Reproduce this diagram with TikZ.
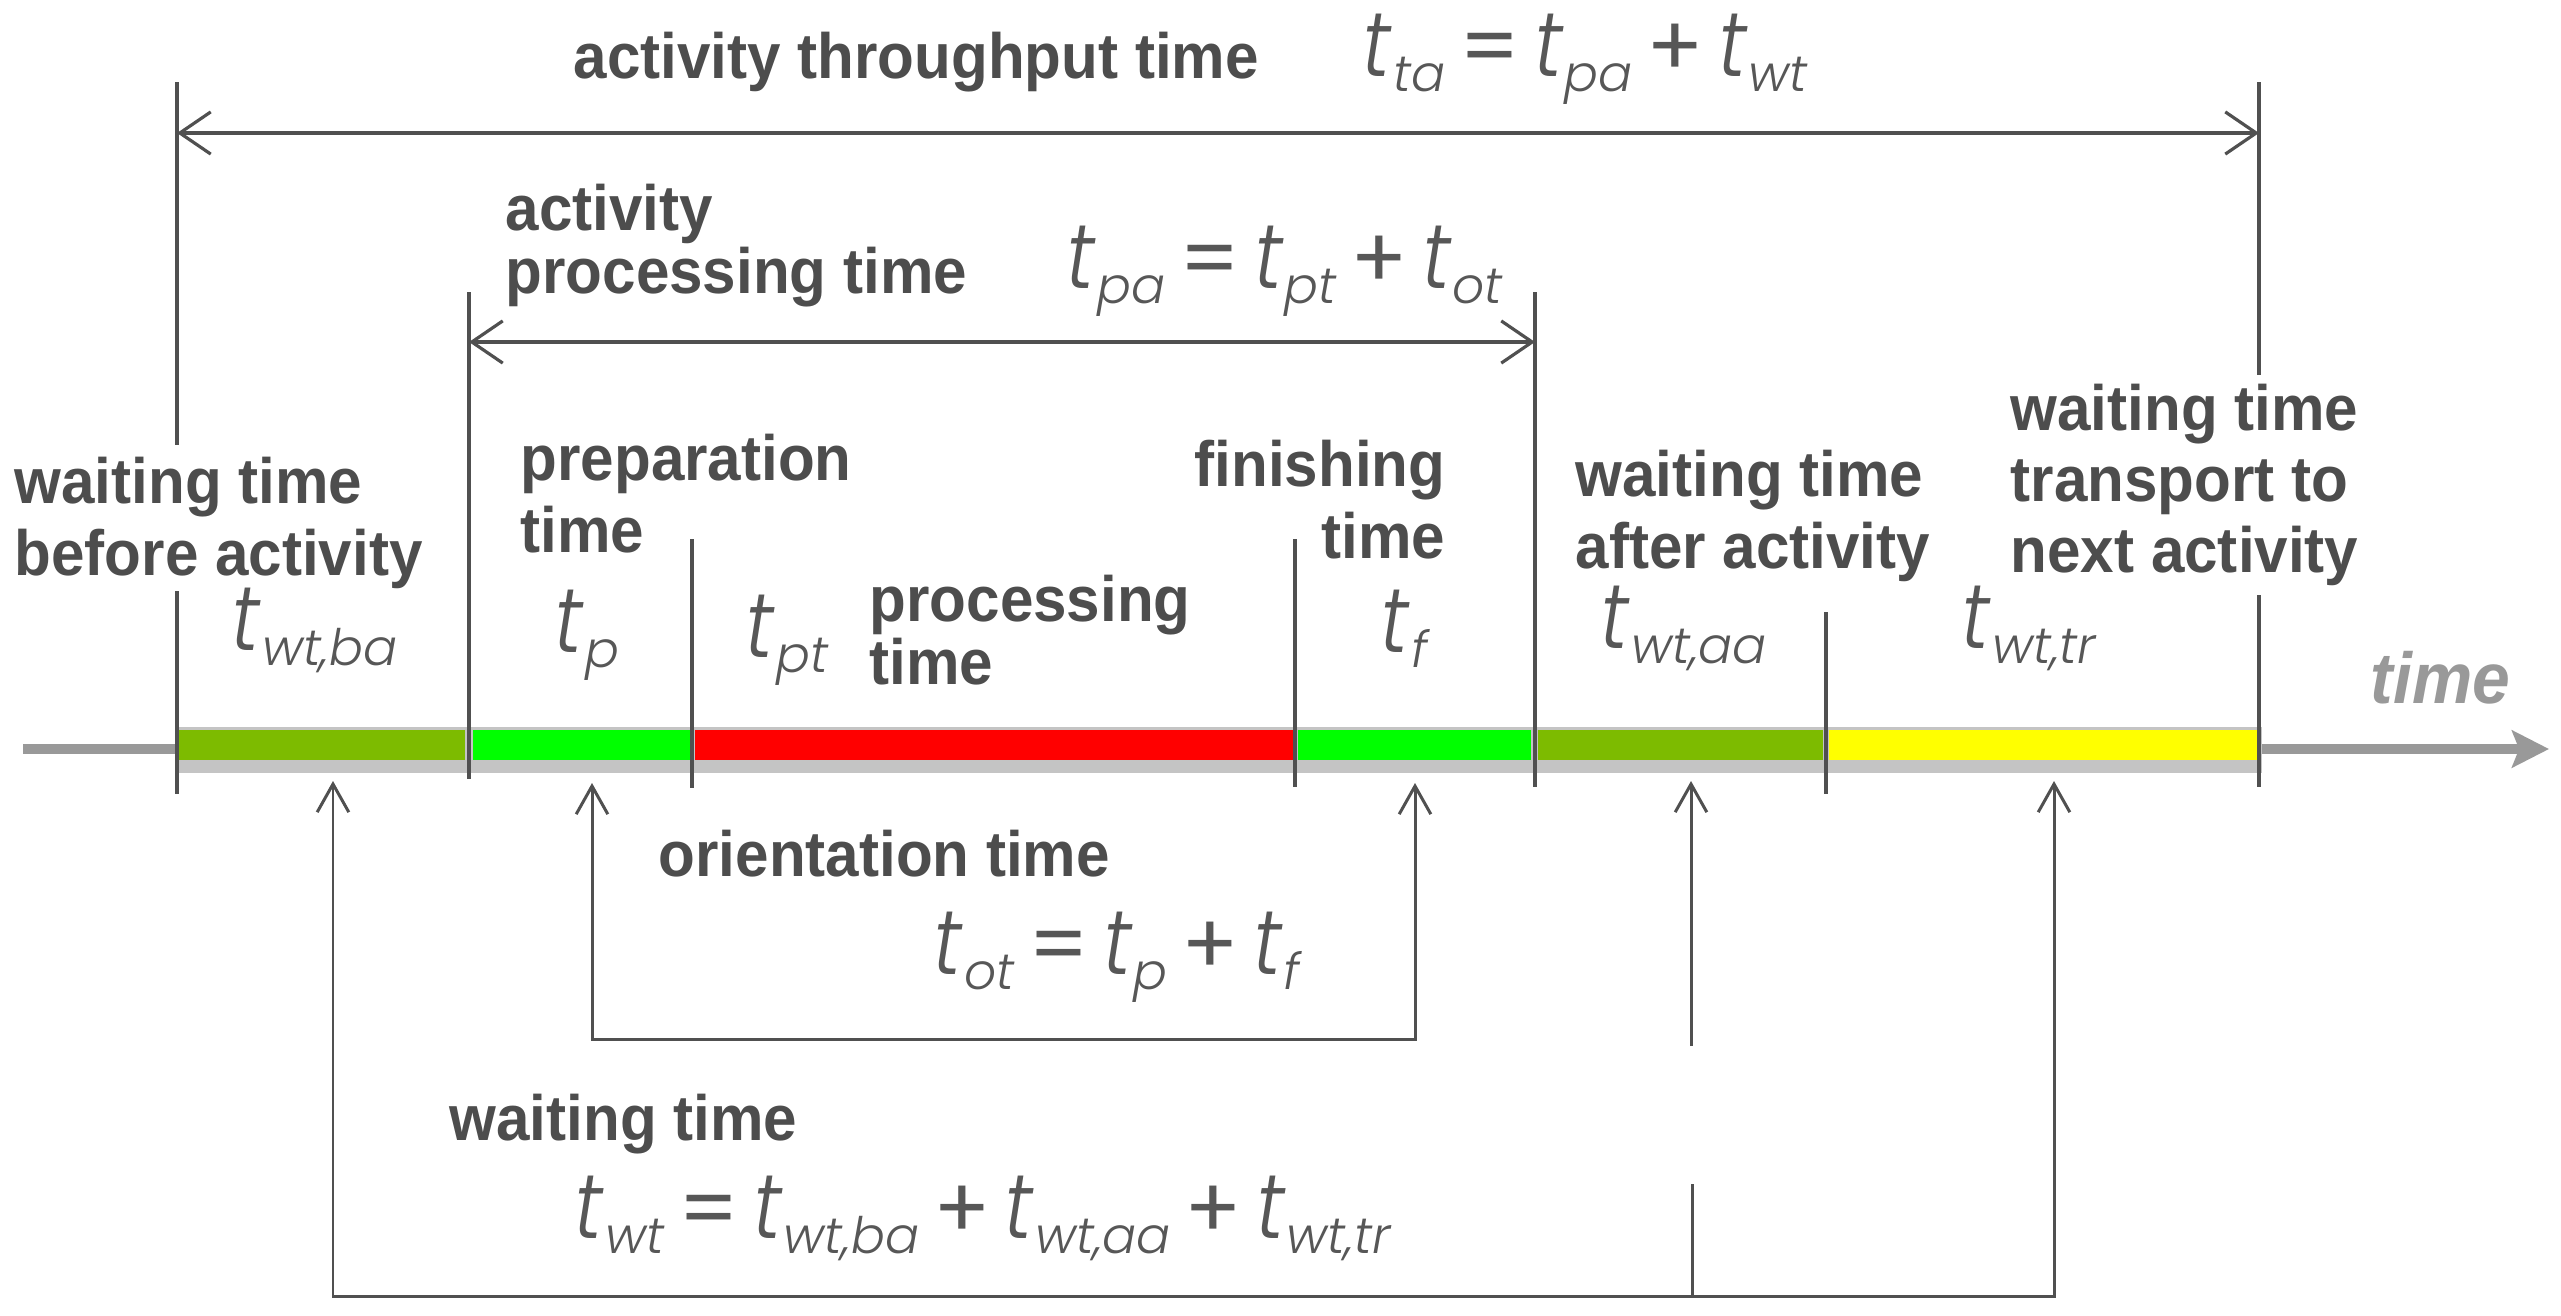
\documentclass[tikz,border=0pt]{standalone}
\usepackage{fontspec}
\setmainfont{Liberation Sans}[FakeStretch=0.94]
\newfontfamily\mf{Poppins Light Italic}
\newfontfamily\mft{Poppins Light Italic}[FakeStretch=0.88]
\newfontfamily\mop{Poppins}
\usetikzlibrary{arrows.meta}
\definecolor{txt}{HTML}{4D4D4D}
\definecolor{mtxt}{HTML}{575757}
\definecolor{lin}{HTML}{505050}
\definecolor{axisgray}{HTML}{999999}
\definecolor{bandgray}{HTML}{C4C4C4}
\definecolor{dgreen}{HTML}{7DBB00}
\definecolor{bgreen}{HTML}{00FF00}
\definecolor{bred}{HTML}{FF0000}
\definecolor{byellow}{HTML}{FFFF00}
\newcommand\lnsL[1]{\vtop{\halign{##\hfil\cr#1\crcr}}}
\newcommand\lnsR[1]{\vtop{\halign{\hfil##\cr#1\crcr}}}
\newcommand\tq[1]{{\mft\fontsize{26}{26}\selectfont t}\kern0.5pt\raisebox{-4.3pt}{\mf\fontsize{14.3}{14.3}\selectfont#1}}
\newcommand\opr[1]{\hspace{4pt}{\mop\upshape\fontsize{24}{24}\selectfont #1}\hspace{4pt}}
\tikzset{
  barbL/.tip={Straight Barb[length=8.8pt,width=12pt]},
  barbS/.tip={Straight Barb[length=8pt,width=9pt]},
  lbl/.style={inner sep=0pt, anchor=base west, text=txt, font=\bfseries\fontsize{18.2}{20.5}\selectfont},
  lbltight/.style={lbl, font=\bfseries\fontsize{18.2}{16.3}\selectfont},
  mth/.style={inner sep=0pt, anchor=base west, text=mtxt, font=\mf\fontsize{23}{23}\selectfont},
  divider/.style={draw=lin, line width=1.3pt},
  dimline/.style={draw=lin, line width=0.9pt, barbL-barbL},
  conn/.style={draw=lin, line width=0.85pt},
}
\begin{document}
\begin{tikzpicture}[x=0.01cm,y=-0.01cm]
\fill[white] (0,0) rectangle (2561,1315);
\useasboundingbox (0,0) rectangle (2561,1315);

% time axis and bar
\coordinate (axL) at (23,749);
\coordinate (axR) at (2549,749);
\draw[axisgray, line width=3.1pt, -{Stealth[length=10.5pt,width=10.5pt,inset=2pt]}] (axL) -- (axR);
\fill[bandgray] (177,727) rectangle (2262,773);
\fill[dgreen]  (178,730) rectangle (465,760);
\fill[bgreen]  (473,730) rectangle (691,760);
\fill[bred]    (695,730) rectangle (1295,760);
\fill[bgreen]  (1298,730) rectangle (1531,760);
\fill[dgreen]  (1538,730) rectangle (1823,760);
\fill[byellow] (1829,730) rectangle (2257,760);

% dividers
\coordinate (v1t) at (177,82);  \coordinate (v1a) at (177,445);
\coordinate (v1b) at (177,591); \coordinate (v1e) at (177,794);
\coordinate (v2t) at (469,292); \coordinate (v2e) at (469,779);
\coordinate (v3t) at (692,539); \coordinate (v3e) at (692,788);
\coordinate (v4t) at (1295,539); \coordinate (v4e) at (1295,787);
\coordinate (v5t) at (1535,292); \coordinate (v5e) at (1535,787);
\coordinate (v6t) at (1826,612); \coordinate (v6e) at (1826,794);
\coordinate (v7t) at (2259,82);  \coordinate (v7a) at (2259,375);
\coordinate (v7b) at (2259,595); \coordinate (v7e) at (2259,787);
\draw[divider] (v1t) -- (v1a);
\draw[divider] (v1b) -- (v1e);
\draw[divider] (v2t) -- (v2e);
\draw[divider] (v3t) -- (v3e);
\draw[divider] (v4t) -- (v4e);
\draw[divider] (v5t) -- (v5e);
\draw[divider] (v6t) -- (v6e);
\draw[divider] (v7t) -- (v7a);
\draw[divider] (v7b) -- (v7e);

% dimension arrows
\coordinate (ta1) at (177,133); \coordinate (ta2) at (2259,133);
\coordinate (pa1) at (469,342); \coordinate (pa2) at (1535,342);
\draw[dimline] (ta1) -- (ta2);
\draw[dimline] (pa1) -- (pa2);

% orientation bracket
\coordinate (o1) at (592,783); \coordinate (o1b) at (592,1039);
\coordinate (o2) at (1415,783); \coordinate (o2b) at (1415,1039);
\draw[conn, barbS-barbS] (o1) -- (o1b) -- (o2b) -- (o2);

% waiting bracket
\coordinate (w1) at (333,781); \coordinate (w1b) at (333,1296);
\coordinate (w3) at (2054,781); \coordinate (w3b) at (2054,1296);
\draw[conn, barbS-barbS] (w1) -- (w1b) -- (w3b) -- (w3);
\coordinate (w2) at (1691,781); \coordinate (w2a) at (1691,1046);
\coordinate (w2b) at (1692,1184); \coordinate (w2c) at (1692,1296);
\draw[conn, -barbS] (w2a) -- (w2);
\draw[conn] (w2b) -- (w2c);

% labels
\node[lbl] (lta) at (573,78) {activity throughput time};
\node[mth] (fta) at (1362,76) {\tq{ta}\opr{=}\tq{pa}\opr{+}\tq{wt}};
\node[lbltight] (lpa) at (505,230) {\lnsL{activity\cr processing time}};
\node[mth] (fpa) at (1066,288) {\tq{pa}\opr{=}\tq{pt}\opr{+}\tq{ot}};
\node[lbl] (lwba) at (14,503) {\lnsL{waiting time\cr before activity}};
\node[lbl] (lp) at (520,480) {\lnsL{preparation\cr time}};
\node[lbltight] (lpt) at (869,621) {\lnsL{processing\cr time}};
\node[lbl, anchor=base east] (lf) at (1446,486) {\lnsR{finishing\cr time}};
\node[lbl] (lwaa) at (1575,496) {\lnsL{waiting time\cr after activity}};
\node[lbl, font=\bfseries\fontsize{18.2}{20.3}\selectfont] (lwtr) at (2010,430) {\lnsL{waiting time\cr transport to\cr next activity}};
\node[mth] (twba) at (231,650) {\tq{wt,ba}};
\node[mth] (tp) at (554,652) {\tq{p}};
\node[mth] (tpt) at (745,657) {\tq{pt}};
\node[mth] (tf) at (1380,652) {\tq{f}};
\node[mth] (twaa) at (1600,648) {\tq{wt,aa}};
\node[mth] (twtr) at (1961,648) {\tq{wt,tr}};
\node[inner sep=0pt, anchor=base west, text=axisgray, font=\bfseries\itshape\fontsize{20.5}{20.5}\selectfont] (ltime) at (2370,703) {time};
\node[lbl] (lot) at (658,876) {orientation time};
\node[mth] (fot) at (933,974) {\tq{ot}\opr{=}\tq{p}\opr{+}\tq{f}};
\node[lbl] (lwt) at (449,1140) {waiting time};
\node[mth] (fwt) at (574,1238) {\tq{wt}\opr{=}\tq{wt,ba}\opr{+}\tq{wt,aa}\opr{+}\tq{wt,tr}};
\end{tikzpicture}
\end{document}
